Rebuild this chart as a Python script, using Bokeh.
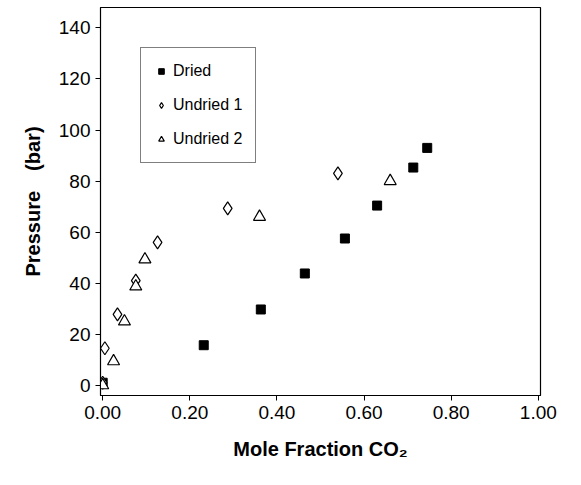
from bokeh.plotting import figure
from bokeh.models import Range1d, Legend, LegendItem, NumeralTickFormatter, FixedTicker
from bokeh.embed import file_html
from bokeh.resources import INLINE

dried_x = [0.00, 0.232, 0.363, 0.464, 0.556, 0.63, 0.713, 0.745]
dried_y = [1, 15.7, 29.7, 43.8, 57.5, 70.4, 85.3, 93]
und1_x = [0.00, 0.005, 0.034, 0.076, 0.126, 0.287, 0.54]
und1_y = [1, 14.5, 27.8, 41, 56, 69.3, 83]
und2_x = [0.00, 0.025, 0.05, 0.076, 0.097, 0.36, 0.66]
und2_y = [0, 9.4, 25, 38.7, 49.3, 66, 80]

p = figure(width=565, height=469, output_backend="svg", toolbar_location=None,
           x_range=Range1d(-0.005, 1.005), y_range=Range1d(-4, 148),
           min_border_left=100, min_border_right=25, min_border_top=7, min_border_bottom=74)
p.xgrid.visible = False
p.ygrid.visible = False
p.outline_line_color = "black"
p.outline_line_width = 1.2
r1 = p.scatter(dried_x, dried_y, marker="square", size=9, color="black")
r2 = p.scatter(und1_x, und1_y, marker="diamond", size=13, fill_color="white", line_color="black", line_width=1.2)
r3 = p.scatter(und2_x, und2_y, marker="triangle", size=12, fill_color="white", line_color="black", line_width=1.2)
p.xaxis.ticker = FixedTicker(ticks=[0, 0.2, 0.4, 0.6, 0.8, 1.0])
p.yaxis.ticker = FixedTicker(ticks=list(range(0, 141, 20)))
p.xaxis.formatter = NumeralTickFormatter(format="0.00")
for ax in (p.xaxis[0], p.yaxis[0]):
    ax.major_label_text_font = "Liberation Sans"
    ax.major_label_text_font_size = "19px"
    ax.major_label_text_color = "black"
    ax.axis_label_text_font = "Liberation Sans"
    ax.axis_label_text_font_size = "20px"
    ax.axis_label_text_font_style = "bold"
    ax.axis_label_text_color = "black"
    ax.minor_tick_line_color = None
    ax.major_tick_in = 0
    ax.major_tick_out = 5
    ax.axis_line_color = "black"
    ax.major_tick_line_color = "black"
p.xaxis.axis_label = "Mole Fraction CO₂"
p.yaxis.axis_label = "Pressure\u2003(bar)"
p.xaxis.axis_label_standoff = 16
p.yaxis.axis_label_standoff = 12
leg = Legend(items=[LegendItem(label="Dried", renderers=[r1]),
                    LegendItem(label="Undried 1", renderers=[r2]),
                    LegendItem(label="Undried 2", renderers=[r3])],
             location="top_left", margin=40, label_text_font="Liberation Sans", label_text_font_size="16px",
             label_text_color="black",
             border_line_color="black", border_line_width=1, spacing=14, padding=13, glyph_width=14,
             background_fill_alpha=1)
p.add_layout(leg, "center")
open("out.html", "w").write(file_html(p, INLINE))
